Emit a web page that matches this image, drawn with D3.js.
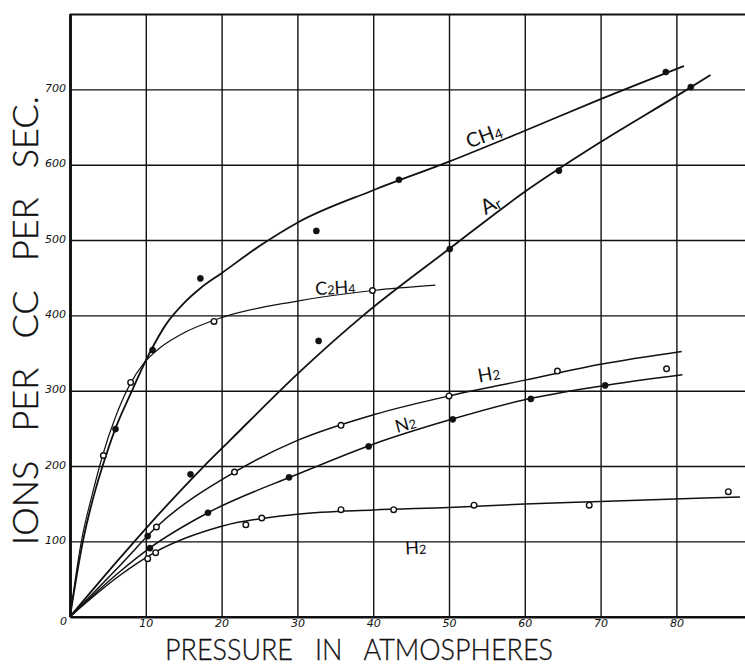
<!DOCTYPE html>
<html>
<head>
<meta charset="utf-8">
<script src="https://cdn.jsdelivr.net/npm/d3@7"></script>
<style>
  body { margin: 0; background: #fff; }
  svg { display: block; }
  .title { white-space: pre; }
</style>
</head>
<body>
<div id="chart"></div>
<script>
// tick values
const xTicks = [0, 10, 20, 30, 40, 50, 60, 70, 80];
const yTicks = [100, 200, 300, 400, 500, 600, 700, 800];

// observed points: [pressure in atm, ions per cc per sec]
const ch4Points = [[6.0, 249], [10.9, 354], [17.2, 449], [32.5, 512], [43.4, 580], [78.6, 723]];
const arPoints = [[10.25, 107], [15.9, 189], [32.8, 366], [50.1, 488], [64.5, 592], [81.9, 703]];
const c2h4Points = [[4.4, 214], [8.0, 311], [19.0, 392], [39.9, 433]];
const h2Points = [[11.4, 119], [21.7, 192], [35.75, 254], [50.0, 293], [64.3, 326], [78.7, 329]];
const n2Points = [[10.55, 91], [18.2, 138], [28.9, 185], [39.4, 226], [50.5, 262], [60.8, 289], [70.6, 307]];
const h2LowPoints = [[10.25, 77], [11.3, 85], [23.2, 122], [25.3, 131], [35.75, 142], [42.7, 142], [53.3, 148], [68.5, 148], [86.85, 166]];

// the hand drawn curves
const ch4Curve = [[0, 0], [1.7, 100], [3.4, 170], [4.3, 200], [6, 250], [8, 296], [10.5, 350], [12.8, 390], [15, 416], [17.2, 436], [20, 456], [25, 492], [30, 523], [40, 566], [50, 604], [60, 645], [70, 687], [81, 731]];
const c2h4Curve = [[0, 0], [1.5, 100], [3, 165], [4.3, 214], [6, 265], [8, 310], [9.7, 336], [12, 358], [14.5, 374], [20, 397], [30, 419], [40, 433], [48.2, 440]];
const arCurve = [[0, 0], [6.6, 78], [10, 117], [17.6, 199], [21.1, 234], [30.3, 325], [38.7, 400], [50, 488], [60, 564], [70, 630], [80, 691], [84.5, 719]];
const h2Curve = [[0, 0], [6.6, 68], [11.4, 119], [21.7, 192], [30, 234], [40, 268], [50, 293], [60, 314], [70, 335], [80.7, 352]];
const n2Curve = [[0, 0], [6.6, 60], [10.5, 91], [18.2, 138], [30, 189], [40, 229], [50, 261], [60, 288], [70, 306], [80.8, 321]];
const h2LowCurve = [[0, 0], [6.6, 55], [11.3, 86], [20, 120], [30, 136], [40, 141.6], [50, 145], [60, 149.6], [70, 153], [88.4, 159]];

const width = 745, height = 671;
const margin = { top: 14, right: 0, bottom: 54, left: 70 };

const svg = d3.select("#chart").append("svg")
  .attr("width", width)
  .attr("height", height);

const x = d3.scaleLinear().domain([0, 89.05]).range([margin.left, width - margin.right]);
const y = d3.scaleLinear().domain([0, 800]).range([height - margin.bottom - 0.3, margin.top]);

const ink = "#111";
const numFont = "'DejaVu Sans', sans-serif";
const letterFont = "Lato, 'Open Sans', sans-serif";

// grid via axes
const xAxis = svg.append("g")
  .attr("transform", `translate(0,${y(0)})`)
  .call(d3.axisBottom(x)
    .tickValues(xTicks)
    .tickSize(-(y(0) - y(800)))
    .tickSizeOuter(0)
    .tickPadding(3)
    .tickFormat(d3.format("d")));

const yAxis = svg.append("g")
  .attr("transform", `translate(${x(0)},0)`)
  .call(d3.axisLeft(y)
    .tickValues(yTicks)
    .tickSize(-(x.range()[1] - x(0)))
    .tickSizeOuter(0)
    .tickPadding(4)
    .tickFormat(d => d === 800 ? "" : d));

[xAxis, yAxis].forEach(g => {
  g.selectAll(".tick line").attr("stroke", ink).attr("stroke-width", 1.4);
  g.select(".domain").attr("stroke", ink).attr("stroke-width", 2.6);
  g.selectAll(".tick text")
    .attr("fill", ink)
    .attr("font-family", numFont)
    .attr("font-style", "italic")
    .attr("font-size", 11);
});
yAxis.selectAll(".tick text").attr("dy", "0.2em");
yAxis.selectAll(".tick").filter(d => d === 800).select("line").attr("stroke-width", 2.2);
xAxis.selectAll(".tick").filter(d => d === 0).select("text").attr("dx", -7).attr("dy", "0.5em");
xAxis.selectAll(".tick").filter(d => d === 0).select("line").attr("stroke-width", 2.6);

// curves
const line = d3.line()
  .x(d => x(d[0]))
  .y(d => y(d[1]))
  .curve(d3.curveMonotoneX);

const series = [
  { curve: ch4Curve, points: ch4Points, filled: true, w: 1.8 },
  { curve: arCurve, points: arPoints, filled: true, w: 1.8 },
  { curve: c2h4Curve, points: c2h4Points, filled: false, w: 1.2 },
  { curve: h2Curve, points: h2Points, filled: false, w: 1.5 },
  { curve: n2Curve, points: n2Points, filled: true, w: 1.5 },
  { curve: h2LowCurve, points: h2LowPoints, filled: false, w: 1.5 }
];

series.forEach(s => {
  svg.append("path")
    .datum(s.curve)
    .attr("fill", "none")
    .attr("stroke", ink)
    .attr("stroke-width", s.w)
    .attr("d", line);

  svg.append("g")
    .selectAll("circle")
    .data(s.points)
    .join("circle")
    .attr("cx", d => x(d[0]))
    .attr("cy", d => y(d[1]))
    .attr("r", s.filled ? 3.1 : 2.8)
    .attr("fill", s.filled ? ink : "#fff")
    .attr("stroke", ink)
    .attr("stroke-width", s.filled ? 0.5 : 1.4);
});

// curve labels, with subscripts
function gasLabel(parts, px, py, angle, size) {
  const t = svg.append("text")
    .attr("transform", `translate(${x(px)},${y(py)}) rotate(${angle})`)
    .attr("text-anchor", "middle")
    .attr("dominant-baseline", "middle")
    .attr("font-family", letterFont)
    .attr("font-size", size)
    .attr("fill", ink);
  parts.forEach(p => {
    const ts = t.append("tspan").text(p[0]);
    if (p[1]) ts.attr("font-size", size * 0.7).attr("dy", size * 0.12);
    else ts.attr("dy", p[2] ? -size * 0.12 : 0);
  });
}

gasLabel([["CH"], ["4", true]], 54.7, 636, -20, 20);
gasLabel([["A"], ["r", true]], 55.6, 545, -30, 21);
gasLabel([["C"], ["2", true], ["H", false, true], ["4", true]], 35, 435, -3, 18);
gasLabel([["H"], ["2", true]], 55.3, 320, -10, 19);
gasLabel([["N"], ["2", true]], 44.3, 254, -15, 18);
gasLabel([["H"], ["2", true]], 45.6, 90, -3, 18);

// axis titles, condensed to the drawn width
svg.append("text")
  .attr("class", "title")
  .attr("x", 165)
  .attr("y", 660)
  .attr("textLength", 388)
  .attr("lengthAdjust", "spacingAndGlyphs")
  .attr("font-family", letterFont)
  .attr("font-weight", 300)
  .attr("font-size", 30)
  .attr("fill", ink)
  .attr("stroke", ink)
  .attr("stroke-width", 0.3)
  .text("PRESSURE   IN   ATMOSPHERES");

svg.append("text")
  .attr("class", "title")
  .attr("transform", "translate(38,545) rotate(-90)")
  .attr("textLength", 449)
  .attr("lengthAdjust", "spacingAndGlyphs")
  .attr("font-family", letterFont)
  .attr("font-weight", 300)
  .attr("font-size", 35)
  .attr("fill", ink)
  .attr("stroke", ink)
  .attr("stroke-width", 0.3)
  .text("IONS   PER   CC   PER   SEC.");
</script>
</body>
</html>
